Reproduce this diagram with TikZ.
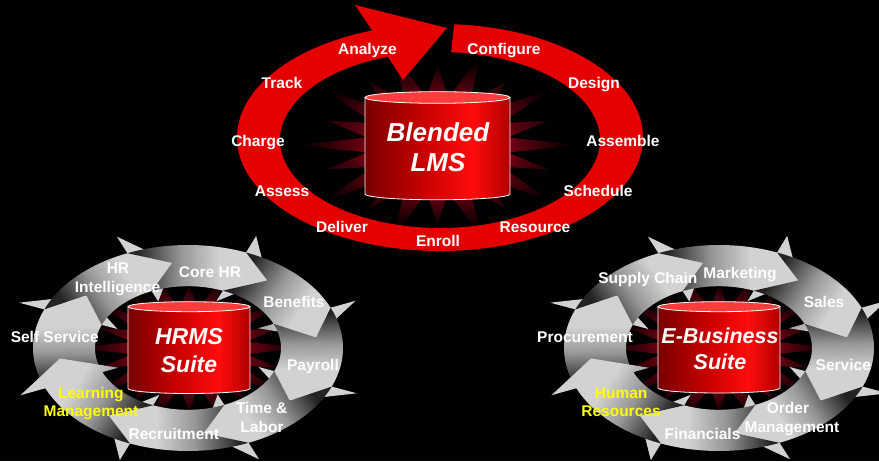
\documentclass[tikz,border=0pt]{standalone}
\usepackage{fontspec}
\setmainfont{Liberation Sans}
\definecolor{ringred}{RGB}{228,0,0}
\definecolor{burstA}{RGB}{185,0,22}
\definecolor{burstB}{RGB}{85,0,14}
\definecolor{cylA}{RGB}{120,0,0}
\definecolor{cylB}{RGB}{200,0,0}
\definecolor{cylC}{RGB}{255,12,12}
\definecolor{cylD}{RGB}{175,0,0}
\definecolor{cyltop}{RGB}{255,60,60}
\definecolor{arrtail}{RGB}{35,35,35}
\definecolor{arrmid}{RGB}{150,150,150}
\definecolor{arrhead}{RGB}{210,210,210}
\definecolor{lblyellow}{RGB}{255,255,0}
\pgfdeclareradialshading{burst}{\pgfpoint{0bp}{0bp}}{color(0bp)=(burstA); color(8bp)=(burstA); color(15bp)=(burstB); color(24bp)=(black); color(50bp)=(black)}
\pgfdeclarehorizontalshading{cylsh}{100bp}{color(0bp)=(cylA); color(25bp)=(cylA); color(45bp)=(cylB); color(62bp)=(cylC); color(75bp)=(cylD); color(100bp)=(cylD)}
\pgfdeclareverticalshading{arrsh}{100bp}{color(0bp)=(arrtail); color(28bp)=(arrtail); color(44bp)=(arrmid); color(58bp)=(arrhead); color(100bp)=(arrhead)}
\tikzset{
  lbl/.style={text=white, font=\bfseries\fontsize{15.5}{17}\selectfont, anchor=base, inner sep=0pt},
  ylbl/.style={lbl, text=lblyellow},
  cyltxt/.style={text=white, font=\bfseries\itshape\fontsize{#1}{#1}\selectfont, anchor=base, inner sep=0pt},
}
% starburst: cx, cy, rx, ry
\newcommand\mystar[4]{%
  \shade[shading=burst] plot[variable=\k, samples at={0,...,39}]
    ({#1+#3*(1-0.5*mod(\k,2)-0.18*(1-mod(\k,2))*mod(\k,4)/2)*cos(\k*9)},
     {#2+#4*(1-0.5*mod(\k,2)-0.18*(1-mod(\k,2))*mod(\k,4)/2)*sin(\k*9)}) -- cycle;}
% cylinder: cx, ytop, ybot, half width, ry
\newcommand\mycyl[5]{%
  \shade[shading=cylsh] (#1-#4,#2) -- (#1-#4,#3) arc[start angle=180,end angle=360,x radius=#4,y radius=#5] -- (#1+#4,#2) -- cycle;
  \draw[white, line width=0.8pt] (#1-#4,#2) -- (#1-#4,#3) arc[start angle=180,end angle=360,x radius=#4,y radius=#5] -- (#1+#4,#2);
  \filldraw[fill=cyltop, draw=white, line width=0.8pt] (#1,#2) ellipse[x radius=#4, y radius=#5];}
% ring of eight grey arrows: cx, cy
\newcommand\arrowring[2]{%
  \begin{scope}[shift={(#1,#2)}, yscale=0.6645]
  \foreach \ha in {158,113,68,23,-22,-67,-112,-157}{
    \pgfmathsetmacro\tA{\ha+45}
    \pgfmathsetmacro\tp{\ha-16}
    \pgfmathsetmacro\nt{\ha+29}
    \pgfmathsetmacro\sa{atan2(0.6645*sin(\ha-67.5), cos(\ha-67.5))-90}
    \shade[shading=arrsh, shading angle=\sa] (\tA:155) arc[start angle=\tA, end angle=\ha, radius=155]
      -- (\ha:182) -- (\tp:129) -- (\ha:76) -- (\ha:93)
      arc[start angle=\ha, end angle=\tA, radius=93] -- (\nt:129) -- cycle;
  }
  \end{scope}}
\begin{document}
\begin{tikzpicture}[x=1pt,y=1pt]
\useasboundingbox (0,0) rectangle (879,461);
\fill[black] (0,0) rectangle (879,461);

% ---------- top: Blended LMS ----------
\mystar{437.5}{316}{142}{96}
\fill[ringred] ([shift={(440,323.5)}]86:203 and 113.5)
  arc[start angle=86, end angle=-250.5, x radius=203, y radius=113.5]
  -- (355,456) -- (447,433) -- (403,381)
  -- ([shift={(440,321)}]109:160 and 88)
  arc[start angle=109, end angle=446, x radius=160, y radius=88] -- cycle;
\mycyl{437.5}{363.5}{267}{72.5}{5.8}
\node[cyltxt=26] (lms1) at (438,319.3) {Blended};
\node[cyltxt=26] (lms2) at (438,289.3) {LMS};
\node[lbl] (analyze) at (367.5,406.7) {Analyze};
\node[lbl] (configure) at (504,406.7) {Configure};
\node[lbl] (track) at (282,372.7) {Track};
\node[lbl] (design) at (594,372.7) {Design};
\node[lbl] (charge) at (258,314.3) {Charge};
\node[lbl] (assemble) at (623,314.3) {Assemble};
\node[lbl] (assess) at (282,264.3) {Assess};
\node[lbl] (schedule) at (598,264.3) {Schedule};
\node[lbl] (deliver) at (342,228.7) {Deliver};
\node[lbl] (resource) at (535,228.7) {Resource};
\node[lbl] (enroll) at (438,214.5) {Enroll};

% ---------- bottom left: HRMS ----------
\mystar{189}{113}{115}{78}
\arrowring{188}{113}
\mycyl{189}{154.3}{72.5}{61}{5}
\node[cyltxt=23] (hrms1) at (189,116) {HRMS};
\node[cyltxt=23] (hrms2) at (189,88.3) {Suite};
\node[lbl] (hri1) at (118,187.7) {HR};
\node[lbl] (hri2) at (117.5,168.3) {Intelligence};
\node[lbl] (corehr) at (210,183.3) {Core HR};
\node[lbl] (benefits) at (294,153.7) {Benefits};
\node[lbl] (selfserv) at (54.7,118.3) {Self Service};
\node[lbl] (payroll) at (313,90.3) {Payroll};
\node[ylbl] (lm1) at (90.8,62.7) {Learning};
\node[ylbl] (lm2) at (91,44.3) {Management};
\node[lbl] (tl1) at (261.7,47) {Time \&};
\node[lbl] (tl2) at (262,28.3) {Labor};
\node[lbl] (recruit) at (173.8,21.7) {Recruitment};

% ---------- bottom right: E-Business ----------
\mystar{719}{113}{115}{78}
\arrowring{719}{113}
\mycyl{719}{154.3}{73}{61}{5}
\node[cyltxt=21.5] (ebs1) at (720,117) {E-Business};
\node[cyltxt=21.5] (ebs2) at (720,91) {Suite};
\node[lbl] (supply) at (647.8,177.7) {Supply Chain};
\node[lbl] (marketing) at (740,182.7) {Marketing};
\node[lbl] (sales) at (824,153.7) {Sales};
\node[lbl] (procure) at (585,118.3) {Procurement};
\node[lbl] (service) at (843.3,90.3) {Service};
\node[ylbl] (hr1) at (621.2,62.7) {Human};
\node[ylbl] (hr2) at (621,44.3) {Resources};
\node[lbl] (om1) at (788,47) {Order};
\node[lbl] (om2) at (792,28.3) {Management};
\node[lbl] (fin) at (702.5,21.7) {Financials};
\end{tikzpicture}
\end{document}
